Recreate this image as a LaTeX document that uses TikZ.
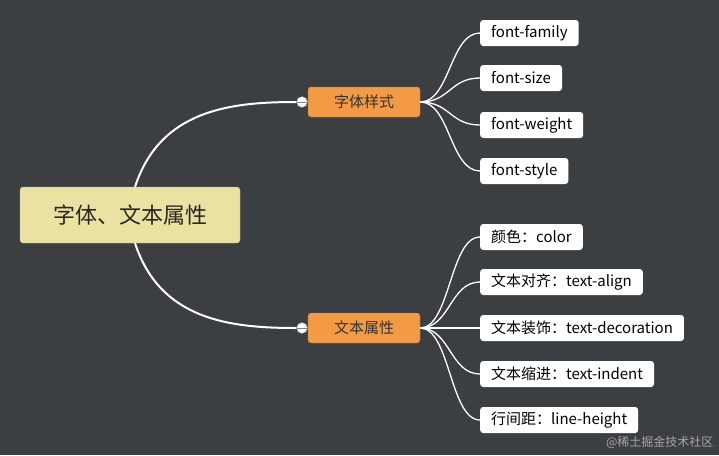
\documentclass[tikz,border=0pt]{standalone}
\usepackage{fontspec}
\newfontfamily\cjk{Noto Sans CJK SC}
\definecolor{bg}{HTML}{3B3F42}
\definecolor{rootfill}{HTML}{E9E2A0}
\definecolor{topicfill}{HTML}{F39A45}
\tikzset{
  root/.style={draw=rootfill!80!black, fill=rootfill, rounded corners=3pt, minimum width=220pt, minimum height=56pt, font=\cjk\fontsize{22}{24}\selectfont, text=black!85},
  topic/.style={draw=topicfill!80!black, fill=topicfill, rounded corners=3pt, minimum width=112pt, minimum height=30pt, font=\cjk\fontsize{15}{17}\selectfont, text=black!80},
  leaf/.style={fill=white, rounded corners=3pt, minimum height=26pt, anchor=west, inner xsep=11pt, font=\cjk\fontsize{15}{17}\selectfont},
  link/.style={white, line width=2pt},
  twig/.style={white, line width=1.3pt},
  knob/.style={circle, fill=white, draw=gray, inner sep=0pt, minimum size=11pt}
}
\begin{document}
\begin{tikzpicture}[x=1pt, y=-1pt]
\fill[bg] (0,0) rectangle (719,455);
\useasboundingbox (0,0) rectangle (719,455);
% main nodes
\node[root] (root) at (130,215) {字体、文本属性};
\node[topic] (font) at (364,102) {字体样式};
\node[topic] (text) at (364,328) {文本属性};
\node[knob] (k1) at (302,102) {};
\node[knob] (k2) at (302,328) {};
\draw[gray] (k1.west) -- (k1.east);
\draw[gray] (k2.west) -- (k2.east);
% links
\draw[link] (135,187) .. controls (160,110) and (230,102) .. (k1.west);
\draw[link] (135,243) .. controls (160,320) and (230,328) .. (k2.west);
% leaves
\foreach \y/\t [count=\i] in {33/font-family, 78/font-size, 125/font-weight, 171/font-style}{
  \node[leaf] (a\i) at (480,\y) {\t};
  \draw[twig] (font.east) .. controls (450,102) and (450,\y) .. (a\i.west);
}
\foreach \y/\t [count=\i] in {237/颜色：color, 282/文本对齐：text-align, 328/文本装饰：text-decoration, 374/文本缩进：text-indent, 420/行间距：line-height}{
  \node[leaf] (b\i) at (480,\y) {\t};
  \draw[twig] (text.east) .. controls (450,328) and (450,\y) .. (b\i.west);
}
\node[anchor=south east, text=gray!70, font=\cjk\fontsize{12}{14}\selectfont] (mark) at (717,452) {@稀土掘金技术社区};
\end{tikzpicture}
\end{document}
